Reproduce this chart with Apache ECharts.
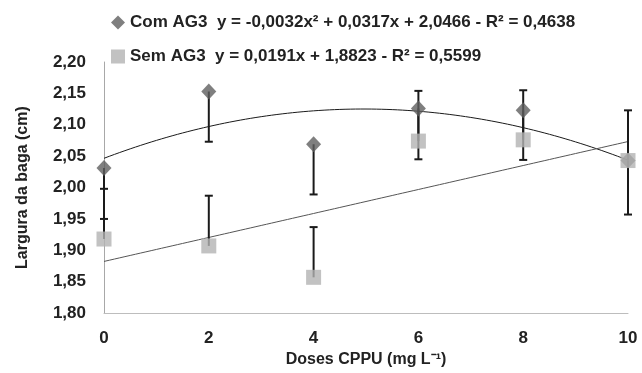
<!DOCTYPE html>
<html>
<head>
<meta charset="utf-8">
<script src="https://cdn.jsdelivr.net/npm/echarts@6/dist/echarts.min.js"></script>
<style>html,body{margin:0;padding:0;background:#fff}#c{width:642px;height:373px}</style>
</head>
<body>
<div id="c"></div>
<script>
var doses = [0, 2, 4, 6, 8, 10];
var comAG3 = [2.031, 2.153, 2.069, 2.126, 2.123, 2.043];
var semAG3 = [1.918, 1.907, 1.857, 2.074, 2.076, 2.043];
var comErrMinus = [0.081, 0.080, 0.080, 0.081, 0.079, 0.086];
var semErrPlus = [0.080, 0.080, 0.080, 0.080, 0.079, 0.080];
var comCoef = [2.0466, 0.0317, -0.0032]; // c0 + c1 x + c2 x^2
var semCoef = [1.8823, 0.0191];
var yTicks = ['1,80','1,85','1,90','1,95','2,00','2,05','2,10','2,15','2,20'];
var comLabel = 'Com AG3  y = -0,0032x\u00b2 + 0,0317x + 2,0466 - R\u00b2 = 0,4638';
var semLabel = 'Sem AG3  y = 0,0191x + 1,8823 - R\u00b2 = 0,5599';

var FONT = 'Liberation Sans';
function trend(coef) {
  var pts = [];
  for (var i = 0; i <= 100; i++) {
    var x = i / 10, y = 0;
    for (var k = 0; k < coef.length; k++) y += coef[k] * Math.pow(x, k);
    pts.push([x, y]);
  }
  return pts;
}
// [x, start (at marker), end (capped)]
var comBars = doses.map(function (d, i) { return [d, comAG3[i], comAG3[i] - comErrMinus[i]]; });
var semBars = doses.map(function (d, i) { return [d, semAG3[i], semAG3[i] + semErrPlus[i]]; });

function errItem(params, api) {
  var x = api.value(0);
  var a = api.coord([x, api.value(1)]);
  var b = api.coord([x, api.value(2)]);
  var w = 4;
  var st = { stroke: '#1a1a1a', lineWidth: 2 };
  return { type: 'group', children: [
    { type: 'line', shape: { x1: a[0], y1: a[1], x2: b[0], y2: b[1] }, style: st },
    { type: 'line', shape: { x1: b[0] - w, y1: b[1], x2: b[0] + w, y2: b[1] }, style: st }
  ]};
}

var chart = echarts.init(document.getElementById('c'));
chart.setOption({
  animation: false,
  textStyle: { fontFamily: FONT },
  grid: { left: 104, right: 14, top: 62, bottom: 57, containLabel: false },
  legend: {
    orient: 'vertical', left: 106, top: 9, itemGap: 17, itemWidth: 14, itemHeight: 14,
    textStyle: { fontFamily: FONT, fontSize: 17, fontWeight: 'bold', color: '#222' },
    data: [{ name: 'Com AG3', icon: 'diamond' }, { name: 'Sem AG3', icon: 'rect' }],
    formatter: function (n) { return n === 'Com AG3' ? comLabel : semLabel; }
  },
  xAxis: {
    type: 'value', min: 0, max: 10, interval: 2,
    name: 'Doses CPPU (mg L\u207b\u00b9)', nameLocation: 'middle', nameGap: 34,
    nameTextStyle: { fontFamily: FONT, fontSize: 16, fontWeight: 'bold', color: '#222' },
    axisLine: { lineStyle: { color: '#bdbdbd', width: 1 } },
    axisTick: { show: false }, splitLine: { show: false },
    axisLabel: { margin: 17, fontFamily: FONT, fontSize: 17, fontWeight: 'bold', color: '#222' }
  },
  yAxis: {
    type: 'value', min: 1.8, max: 2.2, interval: 0.05,
    name: 'Largura da baga (cm)', nameLocation: 'middle', nameGap: 73,
    nameTextStyle: { fontFamily: FONT, fontSize: 16, fontWeight: 'bold', color: '#222' },
    axisLine: { show: true, lineStyle: { color: '#a8a8a8', width: 1 } },
    axisTick: { show: false }, splitLine: { show: false },
    axisLabel: { margin: 18, fontFamily: FONT, fontSize: 17, fontWeight: 'bold', color: '#222',
      formatter: function (v) { return yTicks[Math.round((v - 1.8) / 0.05)]; } }
  },
  series: [
    { name: 'ComTrend', type: 'line', data: trend(comCoef), showSymbol: false,
      lineStyle: { color: '#1a1a1a', width: 1 }, z: 1, silent: true },
    { name: 'SemTrend', type: 'line', data: trend(semCoef), showSymbol: false,
      lineStyle: { color: '#555', width: 1 }, z: 1, silent: true },
    { name: 'comErr', type: 'custom', renderItem: errItem, data: comBars, z: 2 },
    { name: 'semErr', type: 'custom', renderItem: errItem, data: semBars, z: 2 },
    { name: 'Com AG3', type: 'scatter', symbol: 'diamond', symbolSize: [15, 16], zlevel: 1,
      itemStyle: { color: '#5f5f5f' }, data: doses.map(function (d, i) { return [d, comAG3[i]]; }), z: 3 },
    { name: 'Sem AG3', type: 'scatter', symbol: 'rect', symbolSize: 15, zlevel: 2,
      itemStyle: { color: '#b3b3b3' }, data: doses.map(function (d, i) { return [d, semAG3[i]]; }), z: 4 }
  ]
});
</script>
</body>
</html>
